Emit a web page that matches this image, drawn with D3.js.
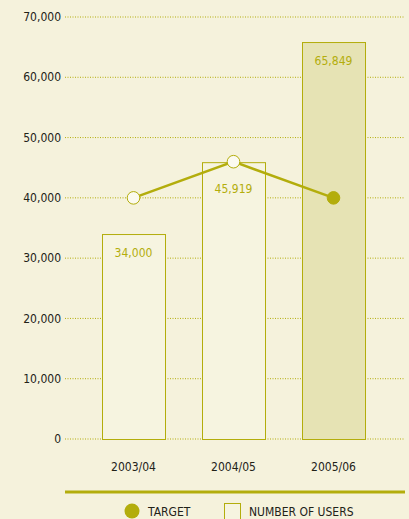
<!DOCTYPE html>
<html>
<head>
<meta charset="utf-8">
<script src="https://cdn.jsdelivr.net/npm/d3@7"></script>
<style>
  body { margin: 0; background: #f5f2dc; }
  svg { display: block; }
  text { font-family: "DejaVu Sans Condensed", "Liberation Sans Narrow", sans-serif; }
</style>
</head>
<body>
<div id="chart"></div>
<script>
// data
var years = ["2003/04", "2004/05", "2005/06"];
var users = [34000, 45919, 65849];
var targets = [40000, 46000, 40000];
var yTicks = [0, 10000, 20000, 30000, 40000, 50000, 60000, 70000];

var width = 409, height = 519;
var olive = "#b3ad0c";

var svg = d3.select("#chart").append("svg")
    .attr("width", width)
    .attr("height", height);

svg.append("rect").attr("width", width).attr("height", height).attr("fill", "#f5f2dc");

var x = d3.scaleBand()
    .domain(years)
    .range([65, 402])
    .paddingInner(0.37)
    .paddingOuter(0.37);

var y = d3.scaleLinear()
    .domain([0, 70000])
    .range([439, 17]);

// gridlines + tick labels
var grid = svg.append("g");
grid.selectAll("line")
    .data(yTicks)
    .enter().append("line")
    .attr("x1", 65).attr("x2", 405)
    .attr("y1", d => y(d)).attr("y2", d => y(d))
    .attr("stroke", olive)
    .attr("stroke-width", 1)
    .attr("stroke-dasharray", "1,1.5");

grid.selectAll("text")
    .data(yTicks)
    .enter().append("text")
    .attr("x", 61)
    .attr("y", d => y(d))
    .attr("dy", "0.35em")
    .attr("text-anchor", "end")
    .attr("font-size", 12)
    .attr("fill", "#222218")
    .text(d => d3.format(",")(d));

// bars
svg.selectAll("rect.bar")
    .data(users)
    .enter().append("rect")
    .attr("class", "bar")
    .attr("x", (d, i) => x(years[i]) + 0.5)
    .attr("y", d => y(d) + 0.5)
    .attr("width", x.bandwidth())
    .attr("height", d => y(0) - y(d))
    .attr("fill", (d, i) => i == 2 ? "#e6e3b4" : "#f6f4e0")
    .attr("stroke", olive)
    .attr("stroke-width", 1);

// value labels inside bars
svg.selectAll("text.val")
    .data(users)
    .enter().append("text")
    .attr("class", "val")
    .attr("x", (d, i) => x(years[i]) + x.bandwidth() / 2)
    .attr("y", function (d, i) {
        var top = y(d);
        var ty = y(targets[i]);
        if (Math.abs(ty - top) < 20) top = ty + 8;
        return top + 19;
    })
    .attr("dy", "0.35em")
    .attr("text-anchor", "middle")
    .attr("font-size", 12)
    .attr("fill", olive)
    .text(d => d3.format(",")(d));

// target line
var line = d3.line()
    .x((d, i) => x(years[i]) + x.bandwidth() / 2)
    .y(d => y(d));

svg.append("path")
    .datum(targets)
    .attr("d", line)
    .attr("fill", "none")
    .attr("stroke", olive)
    .attr("stroke-width", 2.5);

svg.selectAll("circle.tgt")
    .data(targets)
    .enter().append("circle")
    .attr("class", "tgt")
    .attr("cx", (d, i) => x(years[i]) + x.bandwidth() / 2)
    .attr("cy", d => y(d))
    .attr("r", 6.3)
    .attr("fill", (d, i) => i == 2 ? olive : "#fbfaf0")
    .attr("stroke", olive)
    .attr("stroke-width", 1);

// category labels
svg.selectAll("text.cat")
    .data(years)
    .enter().append("text")
    .attr("class", "cat")
    .attr("x", d => x(d) + x.bandwidth() / 2)
    .attr("y", 467)
    .attr("dy", "0.35em")
    .attr("text-anchor", "middle")
    .attr("font-size", 12)
    .attr("fill", "#222218")
    .text(d => d);

// separator
svg.append("line")
    .attr("x1", 65).attr("x2", 405)
    .attr("y1", 492).attr("y2", 492)
    .attr("stroke", olive)
    .attr("stroke-width", 3);

// legend
var legend = svg.append("g");
legend.append("circle")
    .attr("cx", 132).attr("cy", 511).attr("r", 7.5)
    .attr("fill", olive);
legend.append("text")
    .attr("x", 148).attr("y", 512).attr("dy", "0.35em")
    .attr("font-size", 12).attr("fill", "#222218")
    .text("TARGET");
legend.append("rect")
    .attr("x", 224.5).attr("y", 503.5).attr("width", 16).attr("height", 16)
    .attr("fill", "#f6f4e0").attr("stroke", olive);
legend.append("text")
    .attr("x", 249).attr("y", 512).attr("dy", "0.35em")
    .attr("font-size", 12).attr("fill", "#222218")
    .text("NUMBER OF USERS");
</script>
</body>
</html>
